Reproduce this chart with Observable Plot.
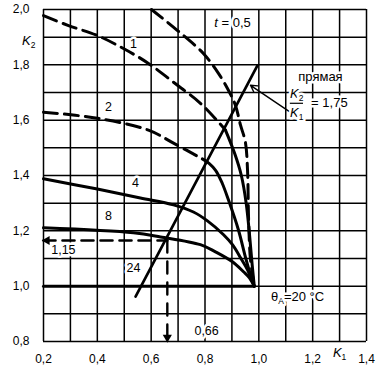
<!DOCTYPE html>
<html><head><meta charset="utf-8">
<script src="https://cdn.jsdelivr.net/npm/d3@7"></script>
<script src="https://cdn.jsdelivr.net/npm/@observablehq/plot@0.6"></script>
<style>body{margin:0;background:#fff}svg{display:block}</style>
</head><body><div id="chart"></div>
<script>
// grid and ticks
const xGrid = [0.2,0.3,0.4,0.5,0.6,0.7,0.8,0.9,1.0,1.1,1.2,1.3,1.4];
const yGrid = [0.8,0.9,1.0,1.1,1.2,1.3,1.4,1.5,1.6,1.7,1.8,1.9,2.0];
const xTicks = [0.2,0.4,0.6,0.8,1.0,1.2,1.4];
const yTicks = [0.8,1.0,1.2,1.4,1.6,1.8,2.0];

// t = 0,5 (dashed)
const tK1 = [0.601,0.698,0.794,0.85,0.887,0.913,0.932,0.95,0.958,0.962,0.969,0.983];
const tK2 = [2.0,1.924,1.841,1.769,1.708,1.654,1.582,1.521,1.42,1.24,1.096,1.0];
// curve 1
const c1DashK1 = [0.2,0.293,0.4,0.497,0.59,0.683,0.783,0.85,0.876];
const c1DashK2 = [1.978,1.942,1.906,1.859,1.805,1.737,1.661,1.593,1.564];
const c1SolidK1 = [0.876,0.91,0.935,0.953,0.966,0.975,0.983];
const c1SolidK2 = [1.564,1.48,1.40,1.30,1.18,1.08,1.0];
// curve 2
const c2DashK1 = [0.2,0.4,0.59,0.683,0.79];
const c2DashK2 = [1.629,1.607,1.564,1.517,1.46];
const c2SolidK1 = [0.79,0.815,0.84,0.864,0.887,0.924,0.95,0.969,0.983];
const c2SolidK2 = [1.46,1.444,1.418,1.372,1.312,1.204,1.106,1.041,1.0];
// curve 4
const c4K1 = [0.2,0.4,0.56,0.683,0.757,0.809,0.869,0.902,0.932,0.958,0.983];
const c4K2 = [1.388,1.351,1.319,1.294,1.268,1.236,1.186,1.150,1.103,1.059,1.0];
// curve 8
const c8K1 = [0.2,0.534,0.635,0.783,0.839,0.902,0.943,0.965,0.983];
const c8K2 = [1.211,1.193,1.178,1.150,1.124,1.088,1.052,1.03,1.0];
// curve 24
const c24K1 = [0.2,0.983];
const c24K2 = [1.0,1.0];
// straight line K2/K1 = 1.75
const lineK1 = [0.542,0.995];
const lineK2 = [0.962,1.798];
// construction: K2 = 1.15 -> K1 = 0.66
const guideK1 = 0.66;
const guideK2 = 1.165;

// labels
const curveLabels = [
  {k1:0.534,k2:1.877,text:"1"},
  {k1:0.441,k2:1.647,text:"2"},
  {k1:0.542,k2:1.373,text:"4"},
  {k1:0.441,k2:1.254,text:"8"},
  {k1:0.534,k2:1.067,text:"24"},
  {k1:0.274,k2:1.132,text:"1,15"},
  {k1:0.806,k2:0.838,text:"0,66"}
];
const noteLabels = [
  {k1:0.902,k2:1.953,text:"*t* = 0,5"},
  {k1:1.144,k2:0.962,text:"θ_{A}=20 °C"},
  {k1:1.229,k2:1.757,text:"прямая"},
  {k1:1.141,k2:1.697,text:"*K*_{2}"},
  {k1:1.141,k2:1.627,text:"*K*_{1}"},
  {k1:1.262,k2:1.662,text:"= 1,75"}
];
const fracBarK1 = [1.117,1.166];
const fracBarK2 = 1.661;
const noteArrow = {x1:1.144,y1:1.611,x2:0.969,y2:1.726};

const pts = (a, b) => a.map((v, i) => ({k1: v, k2: b[i]}));
const fmt = d => d.toFixed(1).replace(".", ",");
const font = "'Liberation Sans', Arial, Helvetica, sans-serif";

const solid = {x:"k1", y:"k2", curve:"catmull-rom", stroke:"black", strokeWidth:3};
const dashed = {...solid, strokeDasharray:"14,7"};

const chart = Plot.plot({
  width: 386, height: 374,
  marginLeft: 43, marginRight: 20, marginTop: 9, marginBottom: 33,
  x: {domain:[0.2,1.4]},
  y: {domain:[0.8,2.0]},
  style: {fontFamily: font, fontSize: "12px", color: "black", background: "white"},
  marks: [
    Plot.ruleX(xGrid, {stroke:"black", strokeWidth:1.5}),
    Plot.ruleY(yGrid, {stroke:"black", strokeWidth:1.5}),
    Plot.axisX(xTicks, {tickSize:0, tickPadding:13, tickFormat:fmt, label:null, fontSize:12}),
    Plot.axisY(yTicks, {tickSize:0, tickPadding:14, tickFormat:fmt, label:null, fontSize:12}),
    Plot.text(["*K*_{2}"], {frameAnchor:"top-left", dx:-8, dy:26, textAnchor:"end", fontSize:13}),
    Plot.text(["*K*_{1}"], {x:1.3, frameAnchor:"bottom", dy:15, fontSize:13}),
    Plot.arrow([noteArrow], {x1:"x1", y1:"y1", x2:"x2", y2:"y2", stroke:"black", strokeWidth:1.4, headLength:8}),
    Plot.text(curveLabels, {x:"k1", y:"k2", text:"text", fontSize:12.5, stroke:"white", strokeWidth:5, fill:"black"}),
    Plot.text(noteLabels, {x:"k1", y:"k2", text:"text", fontSize:13, stroke:"white", strokeWidth:5, fill:"black"}),
    Plot.ruleY([fracBarK2], {x1:fracBarK1[0], x2:fracBarK1[1], stroke:"black", strokeWidth:1.2}),
    Plot.line(pts(c24K1, c24K2), solid),
    Plot.line(pts(c8K1, c8K2), solid),
    Plot.line(pts(c4K1, c4K2), solid),
    Plot.line(pts(c2SolidK1, c2SolidK2), solid),
    Plot.line(pts(c2DashK1, c2DashK2), dashed),
    Plot.line(pts(c1SolidK1, c1SolidK2), solid),
    Plot.line(pts(c1DashK1, c1DashK2), dashed),
    Plot.line(pts(tK1, tK2), dashed),
    Plot.line(pts(lineK1, lineK2), {x:"k1", y:"k2", stroke:"black", strokeWidth:2.7}),
    Plot.line(pts([0.2, guideK1], [guideK2, guideK2]), {x:"k1", y:"k2", stroke:"black", strokeWidth:2.6, strokeDasharray:"12,7"}),
    Plot.line(pts([guideK1, guideK1], [guideK2, 0.8]), {x:"k1", y:"k2", stroke:"black", strokeWidth:2.4, strokeDasharray:"12,9"}),
    Plot.dot([{k1:guideK1, k2:0.815}], {x:"k1", y:"k2", symbol:"triangle", r:3.4, fill:"black", rotate:180}),
    Plot.dot([{k1:0.213, k2:guideK2}], {x:"k1", y:"k2", symbol:"triangle", r:3.4, fill:"black", rotate:270})
  ]
});

// rich text: *italic* and _{subscript}
d3.select(chart).selectAll("text").each(function() {
  const el = this;
  if (el.querySelector("tspan")) return;
  const s = el.textContent;
  if (!/[*_]/.test(s)) return;
  el.textContent = "";
  const re = /\*([^*]+)\*|_\{([^}]+)\}|([^*_]+)/g;
  let m, sub = false;
  while ((m = re.exec(s))) {
    const t = document.createElementNS("http://www.w3.org/2000/svg", "tspan");
    if (m[1] != null) { t.textContent = m[1]; t.setAttribute("font-style", "italic"); if (sub) { t.setAttribute("dy", "-3"); sub = false; } }
    else if (m[2] != null) { t.textContent = m[2]; t.setAttribute("font-size", "8.5"); t.setAttribute("dy", "3"); sub = true; }
    else { t.textContent = m[3]; if (sub) { t.setAttribute("dy", "-3"); sub = false; } }
    el.appendChild(t);
  }
});

document.getElementById("chart").appendChild(chart);
</script>
</body></html>
